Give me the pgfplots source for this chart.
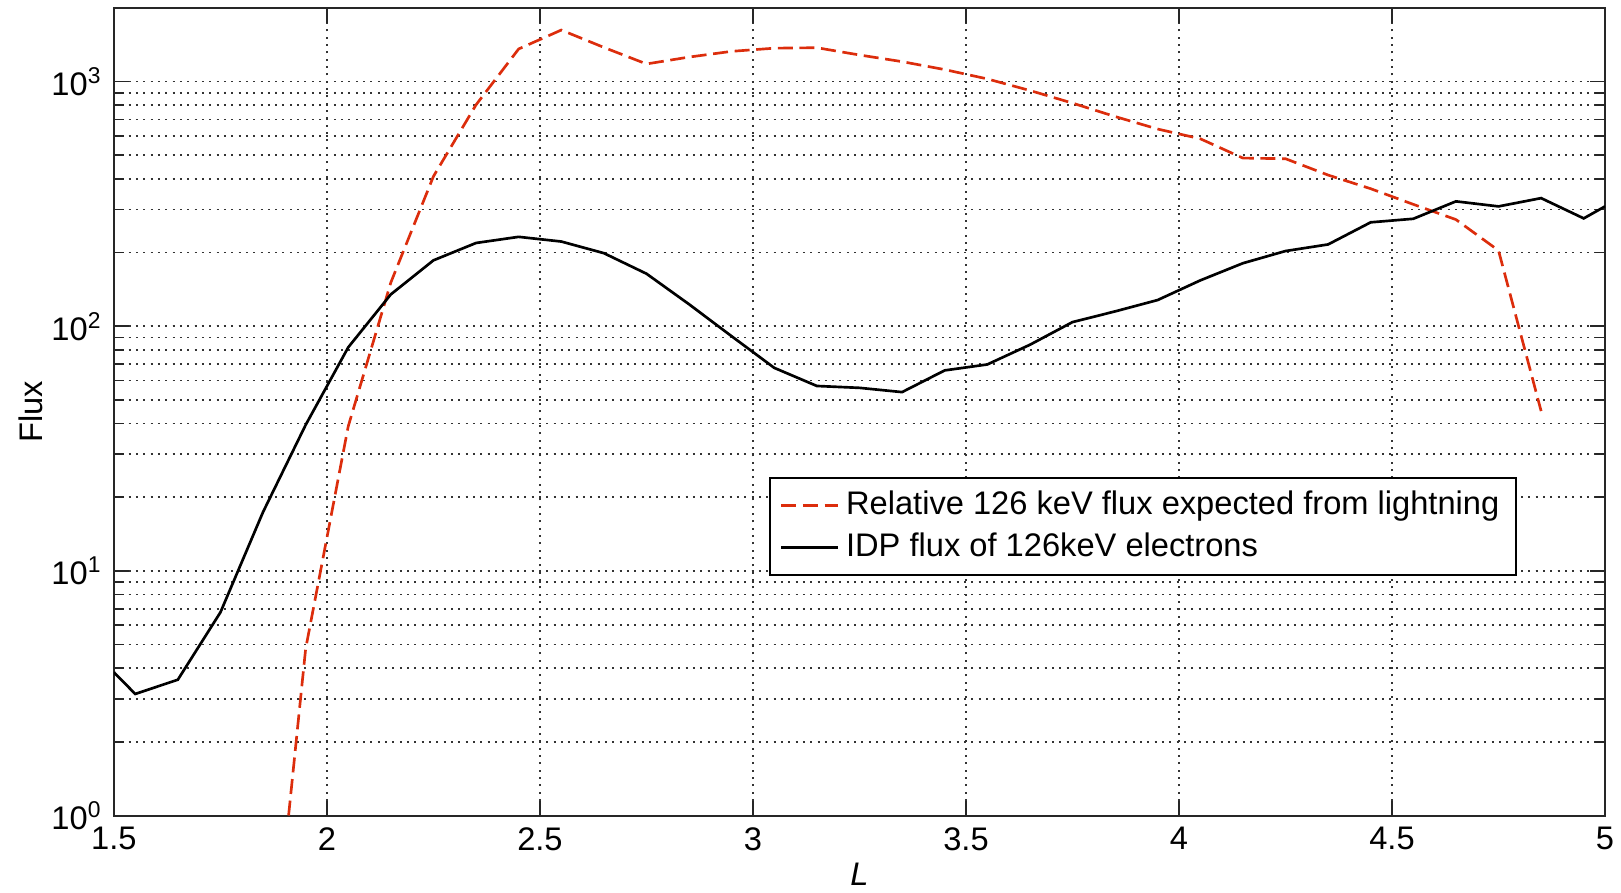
\documentclass[border=0pt]{standalone}
\usepackage{fontspec}
\setmainfont{Liberation Sans}
\usepackage{pgfplots}
\pgfplotsset{compat=1.18}
\definecolor{lightred}{RGB}{220,45,12}

\begin{document}
\begin{tikzpicture}[font=\fontsize{9.8pt}{11pt}\selectfont]
\begin{semilogyaxis}[name=ax, scale only axis, width=447.6pt, height=242.4pt,
  xmin=1.5, xmax=5, ymin=1, ymax=2000,
  xtick={1.5,2,2.5,3,3.5,4,4.5,5}, xticklabels={1.5,2,2.5,3,3.5,4,4.5,5},
  ytick={1,10,100,1000}, yticklabels={10\textsuperscript{0},10\textsuperscript{1},10\textsuperscript{2},10\textsuperscript{3}},
  tick align=inside, major tick length=4.5pt, minor tick length=3pt,
  axis line style={line width=0.6pt, black!85}, every tick/.style={black!85, line width=0.5pt},
  xmajorgrids, ymajorgrids, yminorgrids,
  grid style={black!80, line width=0.5pt, dash pattern=on 0.6pt off 1.6pt},
  minor grid style={black!80, line width=0.5pt, dash pattern=on 0.6pt off 1.6pt},
  xlabel={\textit{L}}, ylabel={Flux},
  xlabel style={at={(axis description cs:0.5,-0.073)}, anchor=center},
  ylabel style={at={(axis description cs:-0.0555,0.5)}, anchor=center},
  legend cell align=left,
  legend style={at={(axis description cs:0.941,0.4197)}, anchor=north east, draw=black, line width=0.6pt,
    fill=white, inner xsep=3pt, inner ysep=2pt, row sep=0pt, font=\fontsize{9.8pt}{11pt}\selectfont}]
% relative 126 keV flux expected from lightning
\addplot[lightred, line width=0.8pt, dash pattern=on 4.5pt off 2pt] coordinates {
(1.91,1.0) (1.95,4.8) (2.05,39) (2.15,151) (2.25,410) (2.35,804) (2.45,1360) (2.55,1625)
(2.65,1380) (2.75,1181) (2.85,1260) (2.95,1330) (3.05,1370) (3.15,1376) (3.25,1285)
(3.35,1207) (3.45,1120) (3.55,1026) (3.65,920) (3.75,817) (3.85,720) (3.95,640)
(4.05,584) (4.15,487) (4.25,484) (4.35,415) (4.45,365) (4.55,315) (4.65,273)
(4.75,204) (4.85,45)};
\addlegendentry{Relative 126 keV flux expected from lightning}
% IDP flux
\addplot[black, line width=0.8pt] coordinates {
(1.5,3.85) (1.55,3.14) (1.65,3.59) (1.75,6.77) (1.85,17.4) (1.95,39.5) (2.05,82)
(2.15,135) (2.25,186) (2.35,219) (2.45,232) (2.55,222) (2.65,199) (2.75,164)
(2.85,123) (2.95,91) (3.05,67.6) (3.15,57) (3.25,56) (3.35,53.8) (3.45,66)
(3.55,69.8) (3.65,84) (3.75,104) (3.85,115) (3.95,128) (4.05,154) (4.15,181)
(4.25,203) (4.35,216) (4.45,266) (4.55,275) (4.65,324) (4.75,309) (4.85,334)
(4.95,276) (5.0,309)};
\addlegendentry{IDP flux of 126keV electrons}
\end{semilogyaxis}
\pgfresetboundingbox
\path ([xshift=-34.2pt,yshift=-23pt]ax.south west) rectangle ([xshift=4.8pt,yshift=2.4pt]ax.north east);
\end{tikzpicture}
\end{document}
